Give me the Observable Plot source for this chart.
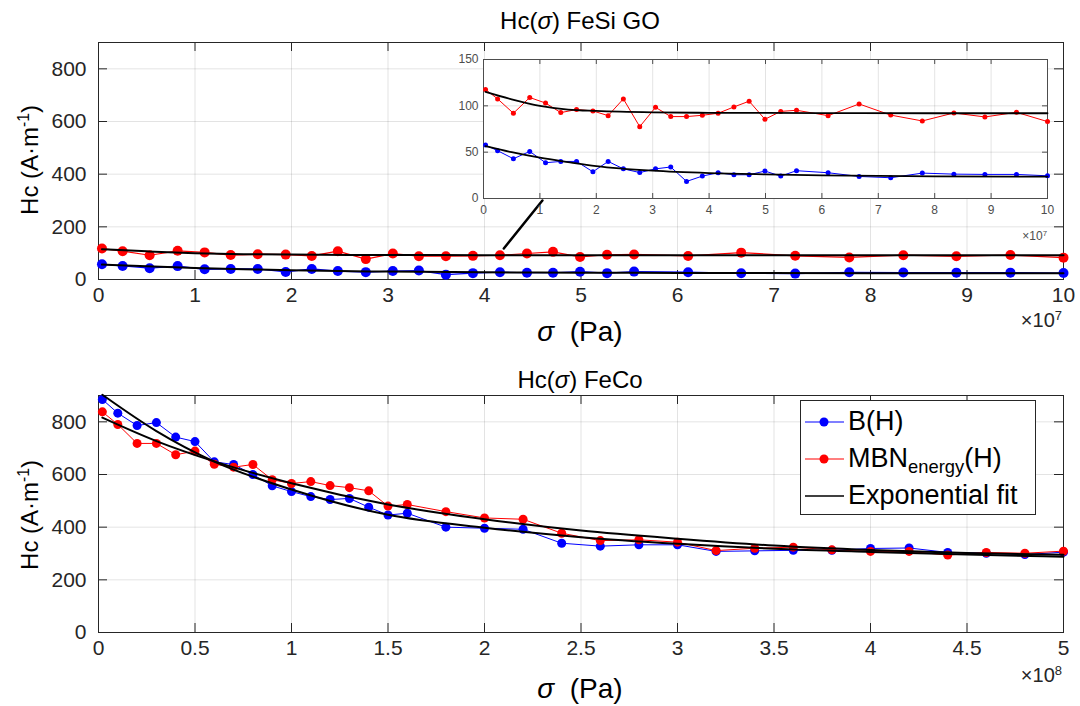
<!DOCTYPE html>
<html><head><meta charset="utf-8">
<script src="https://cdn.jsdelivr.net/npm/d3@7"></script>
<script src="https://cdn.jsdelivr.net/npm/@observablehq/plot@0.6"></script>
<style>
body{margin:0;background:#fff;}
#wrap{position:relative;width:1080px;height:706px;overflow:hidden;font-family:"Liberation Sans",Arial,Helvetica,sans-serif;background:#fff;}
.pl{position:absolute;}
.lbl{position:absolute;white-space:nowrap;color:#000;line-height:1;}
.lbl sup{font-size:65%;vertical-align:0.55em;line-height:0;}
.lbl sub{font-size:68%;vertical-align:-0.3em;line-height:0;}
#legend{position:absolute;left:800px;top:400px;width:236px;height:115px;border:1px solid #262626;background:#fff;box-sizing:border-box;}
#legend .row{position:absolute;left:0;height:37px;display:flex;align-items:center;font-size:27px;white-space:nowrap;}
#legend .row svg{margin-left:4px;margin-right:4px;}
</style></head><body><div id="wrap"></div>
<script>
// ---------- FeSi GO (sigma in units of 10^7 Pa) ----------
const feSiSigma = [0.036,0.25,0.53,0.82,1.10,1.37,1.65,1.94,2.21,2.48,2.77,3.05,3.32,3.60,3.88,4.16,4.44,4.71,4.99,5.27,5.55,6.11,6.66,7.22,7.78,8.34,8.89,9.45,10.0];
const feSiB   = [57.7,51.6,42.9,50.8,38.6,40,40,28.8,40,32,28,32,34,18.4,24.2,27.8,25.6,25.6,29.6,24.2,30,27.8,23.8,22.4,27.4,26.3,26,26,24.5];
const feSiMBN = [117.6,107.5,92,109,103,92.7,96,94.5,89.4,107.5,77.5,98.4,88.4,88.4,89.8,92,98.8,105,85.5,94,95.2,89.4,102,90,83.7,92.3,88,93,83];
const feSiFitSigma = [0.036,0.5,1,1.5,2,3,4,5,6,8,10];
const feSiFitB     = [56.5,50,44,39.3,35,30,27.4,26,25,23.9,23.5];
const feSiFitMBN   = [115,107,100,96,94.5,93,92.5,92.3,92.2,92,92];

// ---------- FeCo (sigma in units of 10^8 Pa) ----------
const feCoSigma = [0.02,0.1,0.2,0.3,0.4,0.5,0.6,0.7,0.8,0.9,1.0,1.1,1.2,1.3,1.4,1.5,1.6,1.8,2.0,2.2,2.4,2.6,2.8,3.0,3.2,3.4,3.6,3.8,4.0,4.2,4.4,4.6,4.8,5.0];
const feCoB   = [885,833,786,797,742,725,648,638,600,557,535,516,505,509,476,446,453,400,396,392,339,328,333,333,308,310,312,312,319,321,304,301,296,305];
const feCoMBN = [838,790,718,718,675,689,639,628,638,580,566,573,558,550,538,480,486,459,435,430,377,349,352,343,311,320,324,314,308,308,294,304,301,309];
const feCoFitSigma = [0.02,0.3,0.6,1.0,1.5,2.0,2.5,3.0,3.5,4.0,4.5,5.0];
const feCoFitB     = [903,765,649,543,447,398,362,337,318,306,296,288];
const feCoFitMBN   = [816,727,650,567,486,430,387,356,330,313,302,295];

// ---------- ticks ----------
const hcTicks = [0,200,400,600,800];
const feSiTicks = [0,1,2,3,4,5,6,7,8,9,10];
const feCoTicks = [0,0.5,1,1.5,2,2.5,3,3.5,4,4.5,5];
const insetYTicks = [0,50,100,150];

// zoom pointer (top plot, units 10^7 Pa, A/m)
const pointerSigma = [4.2,4.6];
const pointerHc = [118,300];

const seriesColors = ["#0000ff","#ff0000","#000000"];

function rows(xs, ys){ return xs.map((x,i)=>({x, y: ys[i]})); }

const wrap = document.getElementById("wrap");
const axisCol = "#262626";
const gridCol = "#000";

function mainPlot(xDomain, xTicks, sets, extra, fmt){
  const W = 1080, H = 353, ML = 98, MR = 17, MT = 42, MB = 74;
  const fw = W-ML-MR, fh = H-MT-MB;
  return Plot.plot({
    width: W, height: H, marginLeft: ML, marginRight: MR, marginTop: MT, marginBottom: MB,
    style: {fontSize: "21px", fontFamily: "Liberation Sans, Arial, sans-serif", color: axisCol, background: "transparent", overflow: "visible"},
    x: {domain: xDomain, ticks: xTicks},
    y: {domain: [0, 900], ticks: hcTicks},
    marks: [
      Plot.gridX(xTicks, {stroke: gridCol, strokeOpacity: 0.11}),
      Plot.gridY(hcTicks, {stroke: gridCol, strokeOpacity: 0.11}),
      Plot.frame({stroke: axisCol, strokeWidth: 1}),
      Plot.tickX(xTicks, {x: d=>d, insetTop: fh-9, stroke: axisCol}),
      Plot.tickX(xTicks, {x: d=>d, insetBottom: fh-9, stroke: axisCol}),
      Plot.tickY(hcTicks, {y: d=>d, insetRight: fw-9, stroke: axisCol}),
      Plot.tickY(hcTicks, {y: d=>d, insetLeft: fw-9, stroke: axisCol}),
      Plot.axisX(xTicks, {tickSize: 0, tickPadding: 8, label: null, tickFormat: fmt, fill: axisCol}),
      Plot.axisY(hcTicks, {tickSize: 0, tickPadding: 12, label: null, fill: axisCol}),
      ...sets,
      ...extra
    ]
  });
}

function seriesMarks(sig, b, mbn, fitSig, fitB, fitMBN, r, lw, fw){
  const B = rows(sig, b), M = rows(sig, mbn);
  return [
    Plot.line(B, {x: "x", y: "y", stroke: seriesColors[0], strokeWidth: lw}),
    Plot.dot(B, {x: "x", y: "y", r, fill: seriesColors[0], stroke: "none"}),
    Plot.line(M, {x: "x", y: "y", stroke: seriesColors[1], strokeWidth: lw}),
    Plot.dot(M, {x: "x", y: "y", r, fill: seriesColors[1], stroke: "none"}),
    Plot.line(rows(fitSig, fitB), {x: "x", y: "y", stroke: seriesColors[2], strokeWidth: fw, curve: "monotone-x"}),
    Plot.line(rows(fitSig, fitMBN), {x: "x", y: "y", stroke: seriesColors[2], strokeWidth: fw, curve: "monotone-x"})
  ];
}

// top plot
const topPlot = mainPlot([0,10], feSiTicks,
  seriesMarks(feSiSigma, feSiB, feSiMBN, feSiFitSigma, feSiFitB, feSiFitMBN, 5, 1.2, 2),
  [Plot.line(rows(pointerSigma, pointerHc), {x: "x", y: "y", stroke: "#000", strokeWidth: 2.5})],
  d => String(d));
topPlot.classList.add("pl"); topPlot.style.left = "0px"; topPlot.style.top = "0px";
wrap.appendChild(topPlot);

// bottom plot
const botPlot = mainPlot([0,5], feCoTicks,
  seriesMarks(feCoSigma, feCoB, feCoMBN, feCoFitSigma, feCoFitB, feCoFitMBN, 4.5, 1, 2),
  [],
  d => String(d));
botPlot.classList.add("pl"); botPlot.style.left = "0px"; botPlot.style.top = "353px";
wrap.appendChild(botPlot);

// inset
(function(){
  const W = 620, H = 210, ML = 43, MR = 13, MT = 14, MB = 57;
  const fw = W-ML-MR, fh = H-MT-MB;
  const ins = Plot.plot({
    width: W, height: H, marginLeft: ML, marginRight: MR, marginTop: MT, marginBottom: MB,
    style: {fontSize: "12px", fontFamily: "Liberation Sans, Arial, sans-serif", color: "#4d4d4d", background: "transparent", overflow: "visible"},
    x: {domain: [0,10], ticks: feSiTicks},
    y: {domain: [0,150], ticks: insetYTicks},
    marks: [
      Plot.frame({fill: "#fff", stroke: "none"}),
      Plot.gridX(feSiTicks, {stroke: gridCol, strokeOpacity: 0.11}),
      Plot.gridY(insetYTicks, {stroke: gridCol, strokeOpacity: 0.11}),
      Plot.frame({stroke: "#4d4d4d", strokeWidth: 1}),
      Plot.tickX(feSiTicks, {x: d=>d, insetTop: fh-5, stroke: "#4d4d4d"}),
      Plot.tickX(feSiTicks, {x: d=>d, insetBottom: fh-5, stroke: "#4d4d4d"}),
      Plot.tickY(insetYTicks, {y: d=>d, insetRight: fw-5, stroke: "#4d4d4d"}),
      Plot.tickY(insetYTicks, {y: d=>d, insetLeft: fw-5, stroke: "#4d4d4d"}),
      Plot.axisX(feSiTicks, {tickSize: 0, tickPadding: 7, label: null, fill: "#4d4d4d"}),
      Plot.axisY(insetYTicks, {tickSize: 0, tickPadding: 5, label: null, fill: "#4d4d4d"}),
      ...seriesMarks(feSiSigma, feSiB, feSiMBN, feSiFitSigma, feSiFitB, feSiFitMBN, 2.5, 1, 1.8)
    ]
  });
  ins.classList.add("pl"); ins.style.left = "440px"; ins.style.top = "45px";
  wrap.appendChild(ins);
})();

// text overlays
function label(html, x, y, size, opts = {}){
  const d = document.createElement("div");
  d.className = "lbl";
  d.innerHTML = html;
  d.style.fontSize = size + "px";
  d.style.left = x + "px";
  d.style.top = y + "px";
  d.style.transform = opts.transform || "translate(-50%,-50%)";
  if (opts.color) d.style.color = opts.color;
  wrap.appendChild(d);
  return d;
}
label("Hc(<i>σ</i>) FeSi GO", 580, 21, 24);
label("Hc(<i>σ</i>) FeCo", 580, 380, 24);
label("<i>σ</i>&nbsp; (Pa)", 580, 332, 28);
label("<i>σ</i>&nbsp; (Pa)", 580, 689, 28);
label("Hc (A·m<sup>-1</sup>)", 30, 160, 24, {transform: "translate(-50%,-50%) rotate(-90deg)"});
label("Hc (A·m<sup>-1</sup>)", 30, 515, 24, {transform: "translate(-50%,-50%) rotate(-90deg)"});
label("×10<sup>7</sup>", 1062, 320, 20, {transform: "translate(-100%,-50%)", color: "#262626"});
label("×10<sup>8</sup>", 1062, 675, 20, {transform: "translate(-100%,-50%)", color: "#262626"});
label("×10<sup>7</sup>", 1047, 236, 12, {transform: "translate(-100%,-50%)", color: "#4d4d4d"});

// legend
const leg = document.createElement("div");
leg.id = "legend";
const legLabels = ["B(H)", "MBN<sub>energy</sub>(H)", "Exponential fit"];
legLabels.forEach((t, i) => {
  const row = document.createElement("div");
  row.className = "row";
  row.style.top = (2 + i*37) + "px";
  const dot = i < 2 ? `<circle cx="19" cy="10" r="4.5" fill="${seriesColors[i]}"/>` : "";
  row.innerHTML = `<svg width="39" height="20"><line x1="0" y1="10" x2="39" y2="10" stroke="${seriesColors[i]}" stroke-width="${i<2?1.2:1.5}"/>${dot}</svg><span class="lbl" style="position:static">${t}</span>`;
  leg.appendChild(row);
});
wrap.appendChild(leg);
</script></body></html>
